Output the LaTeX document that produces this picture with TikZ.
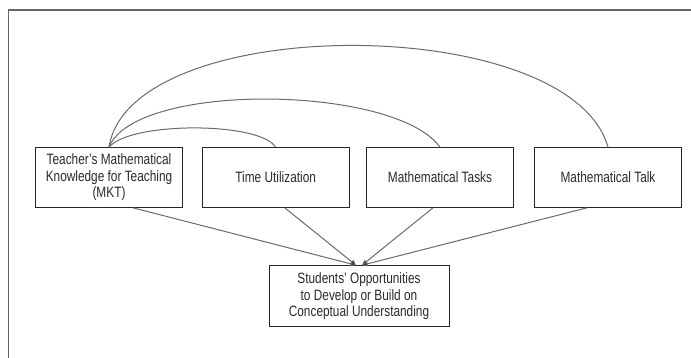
\documentclass[tikz,border=0pt]{standalone}
\usepackage{fontspec}
\setmainfont{Liberation Sans}[FakeStretch=0.79]
\usetikzlibrary{arrows.meta}
\definecolor{frameg}{HTML}{666666}
\definecolor{lineg}{HTML}{6A6A6A}
\definecolor{textg}{HTML}{2A2A2A}
\begin{document}
\begin{tikzpicture}[x=1pt,y=-1pt,
  box/.style={draw=black!85, line width=1pt, fill=white, minimum width=147pt,
    minimum height=59.6pt, align=center, text=textg, inner sep=2pt,
    font=\fontsize{15}{16.5}\selectfont},
  outbox/.style={box, minimum width=180pt, minimum height=61pt},
  link/.style={draw=lineg, line width=1pt},
  feed/.style={link, -{Triangle[width=5pt,length=5.5pt,fill=black]}}]
\useasboundingbox (0,0) rectangle (691,358);
% outer frame, only its top and left sides fall inside the page
\draw[frameg, line width=1.5pt] (8.5,358) -- (8.5,10) -- (691,10);

\node[box] (mkt) at (109,177.5) {Teacher's Mathematical\\Knowledge for Teaching\\(MKT)};
\node[box] (time) at (275.7,177.5) {Time Utilization};
\node[box] (tasks) at (440,177.5) {Mathematical Tasks};
\node[box] (talk) at (608,177.5) {Mathematical Talk};
\node[outbox] (out) at (359,296.2) {Students' Opportunities\\to Develop or Build on\\Conceptual Understanding};

% arcs joining MKT to the other three factors
\draw[link] (mkt.north) .. controls +(21,-25.7) and +(-16,-25.7) .. (time.north);
\draw[link] (mkt.north) .. controls +(26,-65.7) and +(-45,-62.7) .. (tasks.north);
\draw[link] (mkt.north) .. controls +(21,-135.7) and +(-38,-135.7) .. (talk.north);

% every factor feeds into the outcome
\draw[feed] ([xshift=24pt]mkt.south) -- ([xshift=-3pt]out.north);
\draw[feed] ([xshift=9pt]time.south) -- ([xshift=-3pt]out.north);
\draw[feed] ([xshift=-7pt]tasks.south) -- ([xshift=3pt]out.north);
\draw[feed] ([xshift=-21pt]talk.south) -- ([xshift=3pt]out.north);
\end{tikzpicture}
\end{document}
